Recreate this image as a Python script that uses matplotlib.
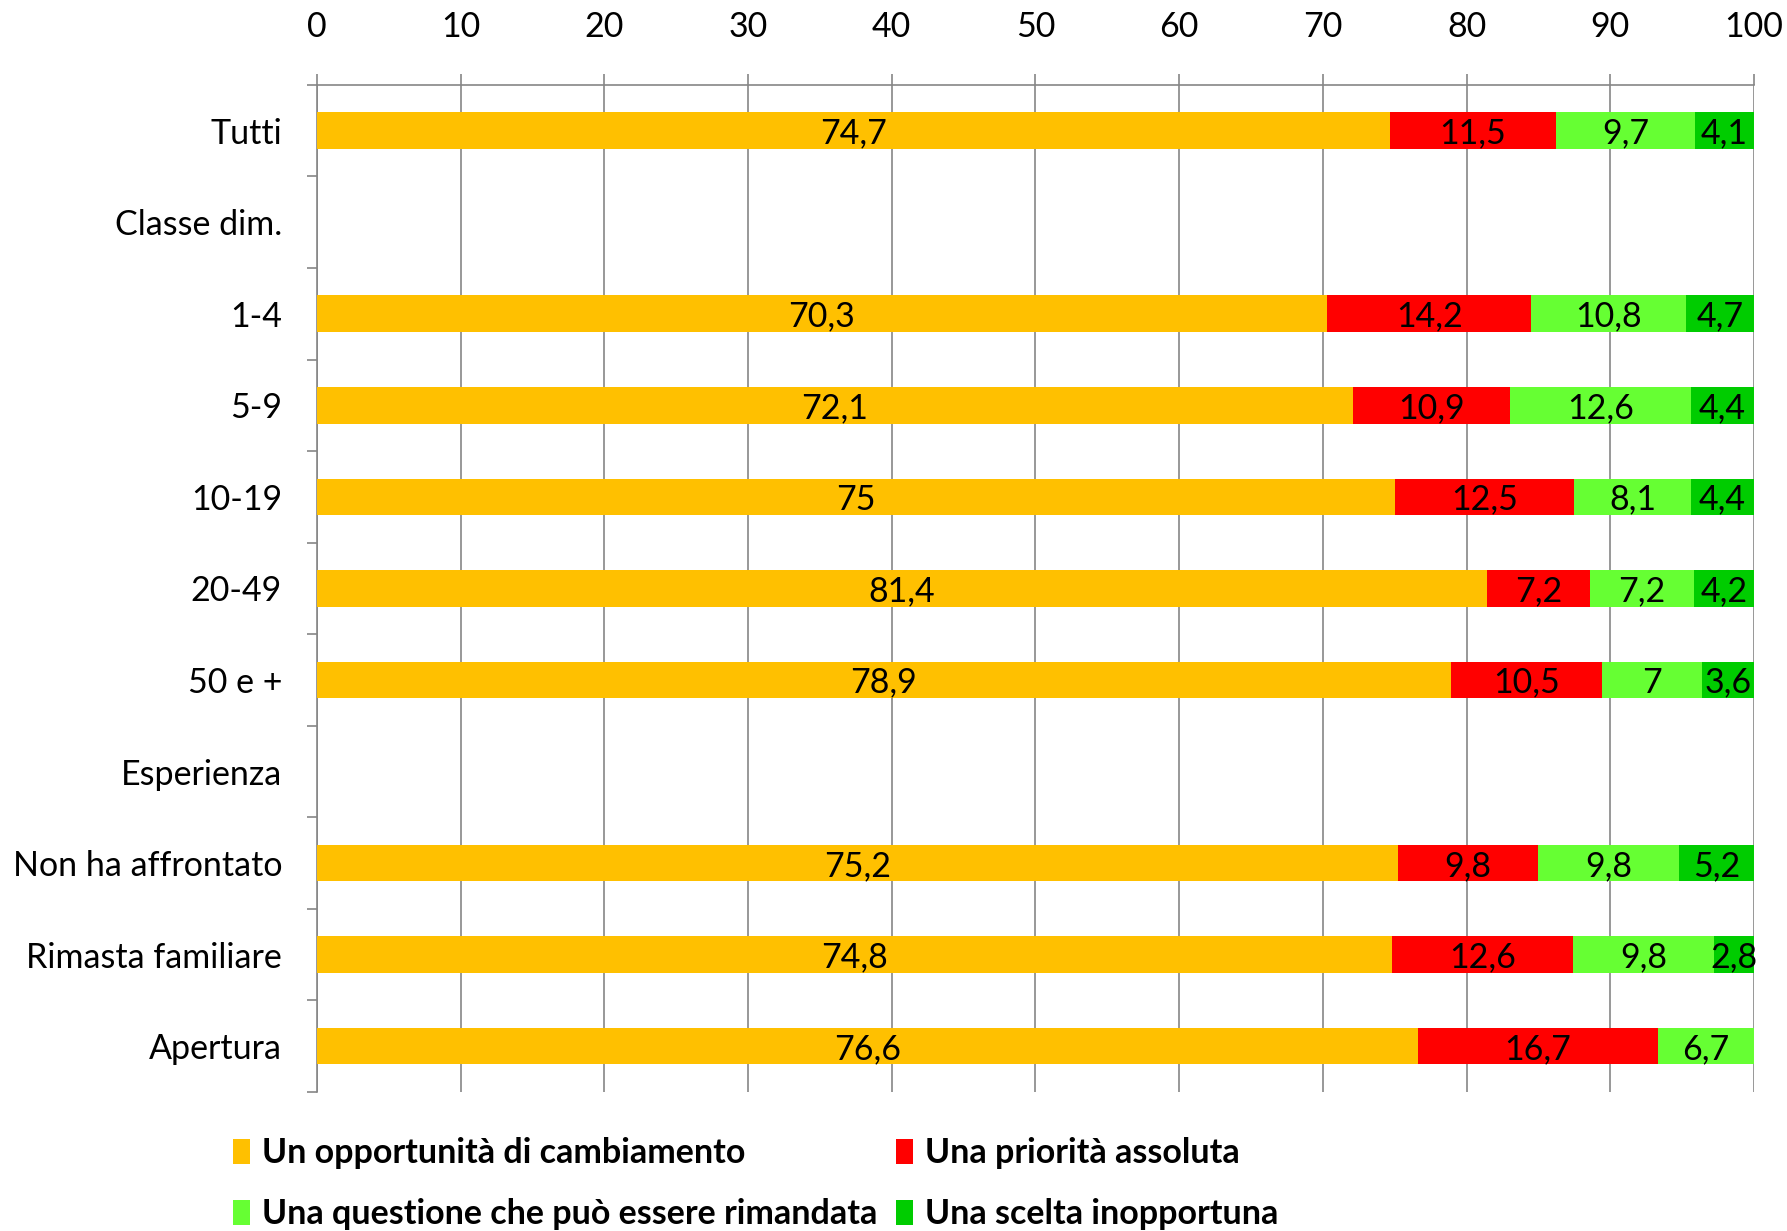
import matplotlib
matplotlib.use("Agg")
import matplotlib.pyplot as plt
from matplotlib.patches import Patch
import numpy as np

categories = ["Tutti", "Classe dim.", "1-4", "5-9", "10-19", "20-49", "50 e +",
              "Esperienza", "Non ha affrontato", "Rimasta familiare", "Apertura"]
series_names = ["Un opportunità di cambiamento", "Una priorità assoluta",
                "Una questione che può essere rimandata", "Una scelta inopportuna"]
opportunita = [74.7, None, 70.3, 72.1, 75, 81.4, 78.9, None, 75.2, 74.8, 76.6]
priorita = [11.5, None, 14.2, 10.9, 12.5, 7.2, 10.5, None, 9.8, 12.6, 16.7]
rimandata = [9.7, None, 10.8, 12.6, 8.1, 7.2, 7, None, 9.8, 9.8, 6.7]
inopportuna = [4.1, None, 4.7, 4.4, 4.4, 4.2, 3.6, None, 5.2, 2.8, None]
colors = ["#FFC000", "#FF0000", "#66FF33", "#00CC00"]
xticks = [0, 10, 20, 30, 40, 50, 60, 70, 80, 90, 100]

FONT = "Lato"
plt.rcParams["font.family"] = [FONT, "DejaVu Sans"]
FS = 24.5
GRAY = "#868686"

fig = plt.figure(figsize=(17.87, 12.31), dpi=100)
ax = fig.add_axes([0.1773, 0.113, 0.9815 - 0.1773, 0.931 - 0.113])

series = [opportunita, priorita, rimandata, inopportuna]
n = len(categories)
left = np.zeros(n)
for vals, col in zip(series, colors):
    for i, v in enumerate(vals):
        if v is None:
            continue
        ax.barh(i, v, left=left[i], height=0.4, color=col, edgecolor="none", zorder=3)
        lab = ("%g" % v).replace(".", ",")
        ax.text(left[i] + v / 2, i + 0.03, lab, ha="center", va="center",
                fontsize=FS, color="black", zorder=4)
        left[i] += v

ax.set_xlim(0, 100)
ax.set_ylim(n - 0.5, -0.5)
ax.xaxis.tick_top()
ax.set_xticks(xticks)
ax.set_xticklabels([str(t) for t in xticks], fontsize=FS)
ax.tick_params(axis="x", which="major", direction="out", length=8, width=1.2,
               color=GRAY, pad=22)
ax.grid(axis="x", color=GRAY, linewidth=1.2, zorder=0)

ax.set_yticks(np.arange(-0.5, n, 1.0))
ax.set_yticklabels([])
ax.set_yticks(np.arange(n), minor=True)
ax.set_yticklabels(categories, minor=True, fontsize=FS)
ax.tick_params(axis="y", which="major", direction="out", length=7, width=1.2, color=GRAY)
ax.tick_params(axis="y", which="minor", length=0, pad=25)

for s in ["right", "bottom"]:
    ax.spines[s].set_visible(False)
for s in ["top", "left"]:
    ax.spines[s].set_color(GRAY)
    ax.spines[s].set_linewidth(1.2)

order = [0, 2, 1, 3]
handles = [Patch(facecolor=colors[k], edgecolor="none") for k in order]
labels = [series_names[k] for k in order]
leg = fig.legend(handles, labels, loc="lower left", bbox_to_anchor=(0.1135, -0.024),
                 ncol=2, frameon=False,
                 prop={"family": [FONT, "DejaVu Sans"], "weight": "bold", "size": FS},
                 handlelength=0.5, handleheight=0.75, handletextpad=0.35,
                 columnspacing=0.55, labelspacing=0.85)

fig.savefig("out.png", dpi=100)
